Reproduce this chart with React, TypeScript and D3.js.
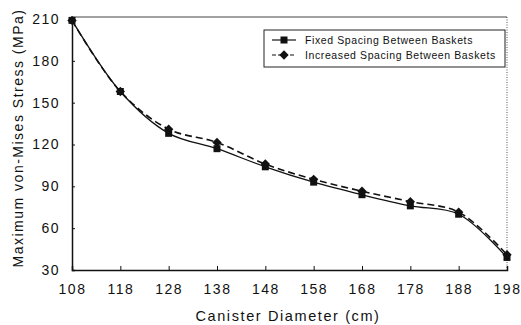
import React, { useRef, useEffect } from 'react';
import * as d3 from 'd3';

const diameters = [108, 118, 128, 138, 148, 158, 168, 178, 188, 198];
const fixedSpacing = [209, 158, 128, 117, 104, 93, 84, 76, 70, 39];
const increasedSpacing = [209, 158, 131, 121.5, 106, 95, 86.5, 79, 71.5, 41];
const yTicks = [30, 60, 90, 120, 150, 180, 210];
const seriesNames = ['Fixed Spacing Between Baskets', 'Increased Spacing Between Baskets'];

const width = 521;
const height = 325;

const App = () => {
    const svgRef = useRef<SVGSVGElement>(null);

    useEffect(() => {
        const svg = d3.select(svgRef.current);
        svg.selectAll('*').remove();

        const font = 'Liberation Sans, Arial, sans-serif';

        const xScale = d3.scaleLinear().domain([108, 198]).range([72, 507]);
        const yScale = d3.scaleLinear().domain([30, 210]).range([270, 19]);

        // frame: top line + dotted right side
        svg.append('line')
            .attr('x1', xScale(108)).attr('x2', xScale(198))
            .attr('y1', yScale(210) - 2).attr('y2', yScale(210) - 2)
            .attr('stroke', '#444').attr('stroke-width', 1);
        svg.append('line')
            .attr('x1', xScale(198)).attr('x2', xScale(198))
            .attr('y1', yScale(210) - 2).attr('y2', yScale(30))
            .attr('stroke', '#555').attr('stroke-width', 1)
            .attr('stroke-dasharray', '1,1.5');

        const xAxis = d3.axisBottom(xScale).tickValues(diameters).tickSize(-4).tickPadding(14).tickFormat(d3.format('d'));
        const gx = svg.append('g')
            .attr('transform', `translate(0, ${yScale(30)})`)
            .call(xAxis);
        gx.select('.domain').attr('stroke', '#111').attr('stroke-width', 1.5);
        gx.selectAll('.tick line').attr('stroke', '#111');
        gx.selectAll('text')
            .attr('font-family', font)
            .style('font-size', '14px')
            .style('letter-spacing', '1.5px')
            .attr('fill', '#111');

        const yAxis = d3.axisLeft(yScale).tickValues(yTicks).tickSize(-3).tickPadding(12);
        const gy = svg.append('g')
            .attr('transform', `translate(${xScale(108)}, 0)`)
            .call(yAxis);
        gy.select('.domain').attr('stroke', '#111').attr('stroke-width', 1.5);
        gy.selectAll('.tick line').attr('stroke', '#111');
        gy.selectAll('text')
            .attr('font-family', font)
            .style('font-size', '14px')
            .style('letter-spacing', '1.5px')
            .attr('fill', '#111');

        const line = d3.line<number>()
            .x((d, i) => xScale(diameters[i]))
            .y(d => yScale(d))
            .curve(d3.curveCatmullRom.alpha(0.5));

        svg.append('path')
            .attr('d', line(increasedSpacing))
            .attr('fill', 'none')
            .attr('stroke', '#111')
            .attr('stroke-width', 1.6)
            .attr('stroke-dasharray', '7,4');

        svg.append('path')
            .attr('d', line(fixedSpacing))
            .attr('fill', 'none')
            .attr('stroke', '#111')
            .attr('stroke-width', 1.3);

        const square = d3.symbol().type(d3.symbolSquare).size(49);
        const diamond = d3.symbol().type(d3.symbolDiamond2).size(56);

        svg.append('g').selectAll('path')
            .data(fixedSpacing)
            .join('path')
            .attr('d', square)
            .attr('transform', (d, i) => `translate(${xScale(diameters[i])}, ${yScale(d)})`)
            .attr('fill', '#111');

        svg.append('g').selectAll('path')
            .data(increasedSpacing)
            .join('path')
            .attr('d', diamond)
            .attr('transform', (d, i) => `translate(${xScale(diameters[i])}, ${yScale(d)})`)
            .attr('fill', '#111');

        // legend
        const legend = svg.append('g').attr('transform', 'translate(264, 30)');
        legend.append('rect')
            .attr('width', 241).attr('height', 37)
            .attr('fill', 'white')
            .attr('stroke', '#222').attr('stroke-width', 1);
        seriesNames.forEach((name, i) => {
            const ly = 10 + i * 15;
            legend.append('line')
                .attr('x1', 8).attr('x2', 32)
                .attr('y1', ly).attr('y2', ly)
                .attr('stroke', '#111').attr('stroke-width', 1.2)
                .attr('stroke-dasharray', i === 0 ? null : '4,2');
            legend.append('path')
                .attr('d', i === 0 ? square() : diamond())
                .attr('transform', `translate(20, ${ly})`)
                .attr('fill', '#111');
            legend.append('text')
                .attr('x', 41).attr('y', ly + 3.5)
                .attr('font-family', font)
                .style('font-size', '10.5px')
                .style('letter-spacing', '0.6px')
                .attr('fill', '#111')
                .text(name);
        });

        // axis titles
        svg.append('text')
            .attr('x', 288).attr('y', 321)
            .attr('text-anchor', 'middle')
            .attr('font-family', font)
            .style('font-size', '14.5px')
            .style('letter-spacing', '1.6px')
            .attr('fill', '#111')
            .text('Canister Diameter (cm)');

        svg.append('text')
            .attr('transform', 'translate(23, 138) rotate(-90)')
            .attr('text-anchor', 'middle')
            .attr('font-family', font)
            .style('font-size', '14px')
            .style('letter-spacing', '1.5px')
            .attr('fill', '#111')
            .text('Maximum von-Mises Stress (MPa)');
    }, []);

    return (
        <svg ref={svgRef} width={width} height={height}
            style={{ position: 'absolute', left: 0, top: 0, background: 'white' }} />
    );
};

export default App;
